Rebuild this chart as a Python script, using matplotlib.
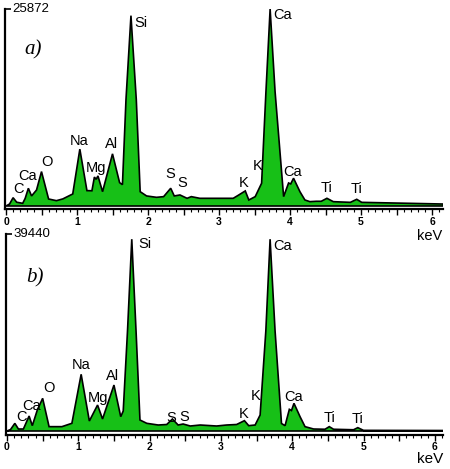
import matplotlib
matplotlib.use("Agg")
import matplotlib.pyplot as plt
from matplotlib.ticker import MultipleLocator, FuncFormatter
import numpy as np

plt.rcParams['font.family'] = ['Liberation Sans', 'DejaVu Sans']

# ---------------- data ----------------
ymax_a = 25872
energy_a = [0.00, 0.05, 0.10, 0.15, 0.235, 0.27, 0.315, 0.36, 0.43, 0.50, 0.60, 0.71, 0.80, 0.94,
            1.04, 1.14, 1.21, 1.245, 1.27, 1.295, 1.36, 1.50, 1.60, 1.64, 1.69, 1.76, 1.835, 1.89,
            1.98, 2.12, 2.22, 2.32, 2.37, 2.45, 2.55, 2.61, 2.73, 3.20, 3.27, 3.37, 3.42, 3.51,
            3.60, 3.66, 3.72, 3.79, 3.91, 3.98, 4.01, 4.05, 4.14, 4.21, 4.28, 4.37, 4.44, 4.52,
            4.61, 4.85, 4.94, 5.01, 6.16]
counts_a = [0, 260, 1090, 500, 350, 1000, 2330, 1320, 2100, 4520, 920, 700, 930, 1580,
            7470, 2020, 2000, 3800, 3500, 3950, 1880, 6850, 3070, 2800, 14000, 25000, 14000, 1880,
            1320, 1140, 1230, 2330, 1320, 1450, 1010, 1230, 1010, 1010, 1400, 1980, 790, 1230,
            2990, 14800, 25872, 15000, 1230, 3020, 2900, 3650, 1880, 790, 570, 620, 620, 1010,
            570, 480, 880, 480, 260]
labels_a = ["C", "Ca", "O", "Na", "Mg", "Al", "Si", "S", "S", "K", "K", "Ca", "Ca", "Ti", "Ti"]
label_x_a = [0.17, 0.31, 0.58, 1.03, 1.27, 1.49, 1.90, 2.31, 2.48, 3.34, 3.54, 3.89, 4.04, 4.52, 4.94]
label_y_a = [2230, 3940, 5780, 8530, 4990, 8140, 24030, 4200, 3020, 3020, 5250, 25080, 4460, 2360, 2230]

ymax_b = 39440
energy_b = [0.00, 0.05, 0.11, 0.16, 0.23, 0.31, 0.355, 0.425, 0.50, 0.59, 0.77, 0.91, 1.04, 1.155,
            1.27, 1.34, 1.50, 1.595, 1.63, 1.69, 1.75, 1.81, 1.865, 1.96, 2.12, 2.24, 2.32, 2.40,
            2.47, 2.57, 2.71, 2.94, 3.08, 3.22, 3.33, 3.39, 3.48, 3.55, 3.63, 3.69, 3.76, 3.85,
            3.90, 3.96, 3.99, 4.025, 4.11, 4.18, 4.30, 4.46, 4.52, 4.58, 4.86, 4.92, 5.00, 6.12]
counts_b = [0, 300, 1530, 400, 400, 3000, 1070, 4200, 6540, 870, 870, 1540, 11350, 2000,
            5200, 2400, 9200, 2870, 4000, 20000, 38400, 20000, 2200, 1540, 1200, 1300, 2400, 1200,
            1400, 1000, 1200, 1000, 1200, 1300, 2070, 1070, 1200, 3200, 20000, 38400, 20000, 1500,
            1070, 4340, 4100, 5540, 2870, 870, 400, 350, 870, 350, 250, 670, 130, 100]
labels_b = ["C", "Ca", "O", "Na", "Mg", "Al", "Si", "S", "S", "K", "K", "Ca", "Ca", "Ti", "Ti"]
label_x_b = [0.21, 0.35, 0.59, 1.04, 1.27, 1.48, 1.94, 2.31, 2.49, 3.32, 3.49, 3.86, 4.02, 4.52, 4.92]
label_y_b = [2870, 5070, 8550, 13210, 6670, 11070, 37370, 2540, 2740, 3340, 7000, 37100, 6750, 2540, 2340]

W, H = 450, 469
fig = plt.figure(figsize=(W / 100, H / 100), dpi=100)
green = '#17c017'


def make_panel(rect_px, xlim, ylim, energy, counts, ymax, labels, lx, ly, tag, tag_xy):
    left, top, right, bottom = rect_px
    ax = fig.add_axes([left / W, 1 - bottom / H, (right - left) / W, (bottom - top) / H])
    xs = np.array(energy)
    ys = np.array(counts)
    px = np.concatenate([xs, [xs[-1], xs[0]]])
    py = np.concatenate([ys, [0, 0]])
    ax.fill(px, py, facecolor=green, edgecolor='black', linewidth=1.2, joinstyle='miter')
    ax.set_xlim(*xlim)
    ax.set_ylim(*ylim)
    for s in ['top', 'right']:
        ax.spines[s].set_visible(False)
    ax.spines['left'].set_linewidth(1.6)
    ax.spines['bottom'].set_linewidth(1.6)
    ax.xaxis.set_major_locator(MultipleLocator(0.5))
    ax.xaxis.set_minor_locator(MultipleLocator(0.1))
    ax.xaxis.set_major_formatter(FuncFormatter(
        lambda v, p: f"{int(round(v))}" if abs(v - round(v)) < 1e-6 else ""))
    ax.tick_params(axis='x', which='major', direction='out', length=4, width=1.0,
                   labelsize=7.5, pad=1.5)
    ax.tick_params(axis='x', which='minor', direction='out', length=2.2, width=0.8)
    for t in ax.get_xticklabels():
        t.set_fontweight('bold')
    ax.set_yticks([ylim[1]])
    ax.set_yticklabels([])
    ax.tick_params(axis='y', direction='in', length=4, width=1.2)
    ax.text(0.017, 1.0, str(ymax), transform=ax.transAxes, ha='left', va='center', fontsize=9.5)
    for t, x, y in zip(labels, lx, ly):
        ax.text(x, y, t, ha='center', va='center', fontsize=10.5)
    ax.text(tag_xy[0], tag_xy[1], tag, ha='center', va='center', fontsize=15,
            family='Liberation Serif', style='italic')
    return ax


# panel a: 0 keV at px 6, 71 px/keV; counts 0 at py 206, ymax at py 9
sa = ymax_a / 197.0
make_panel((5, 9, 443, 209.5), (-1 / 71, (443 - 6) / 71), (-3.5 * sa, ymax_a),
           energy_a, counts_a, ymax_a, labels_a, label_x_a, label_y_a, 'a)', (0.38, 20480))
sb = ymax_b / 197.0
make_panel((6, 234, 443, 434.5), (-1 / 71.3, (443 - 7) / 71.3), (-3.5 * sb, ymax_b),
           energy_b, counts_b, ymax_b, labels_b, label_x_b, label_y_b, 'b)', (0.39, 30690))

fig.text(430 / W, 1 - 236 / H, 'keV', ha='center', va='center', fontsize=10.5)
fig.text(430 / W, 1 - 459 / H, 'keV', ha='center', va='center', fontsize=11)

fig.savefig('out.png', dpi=100)
